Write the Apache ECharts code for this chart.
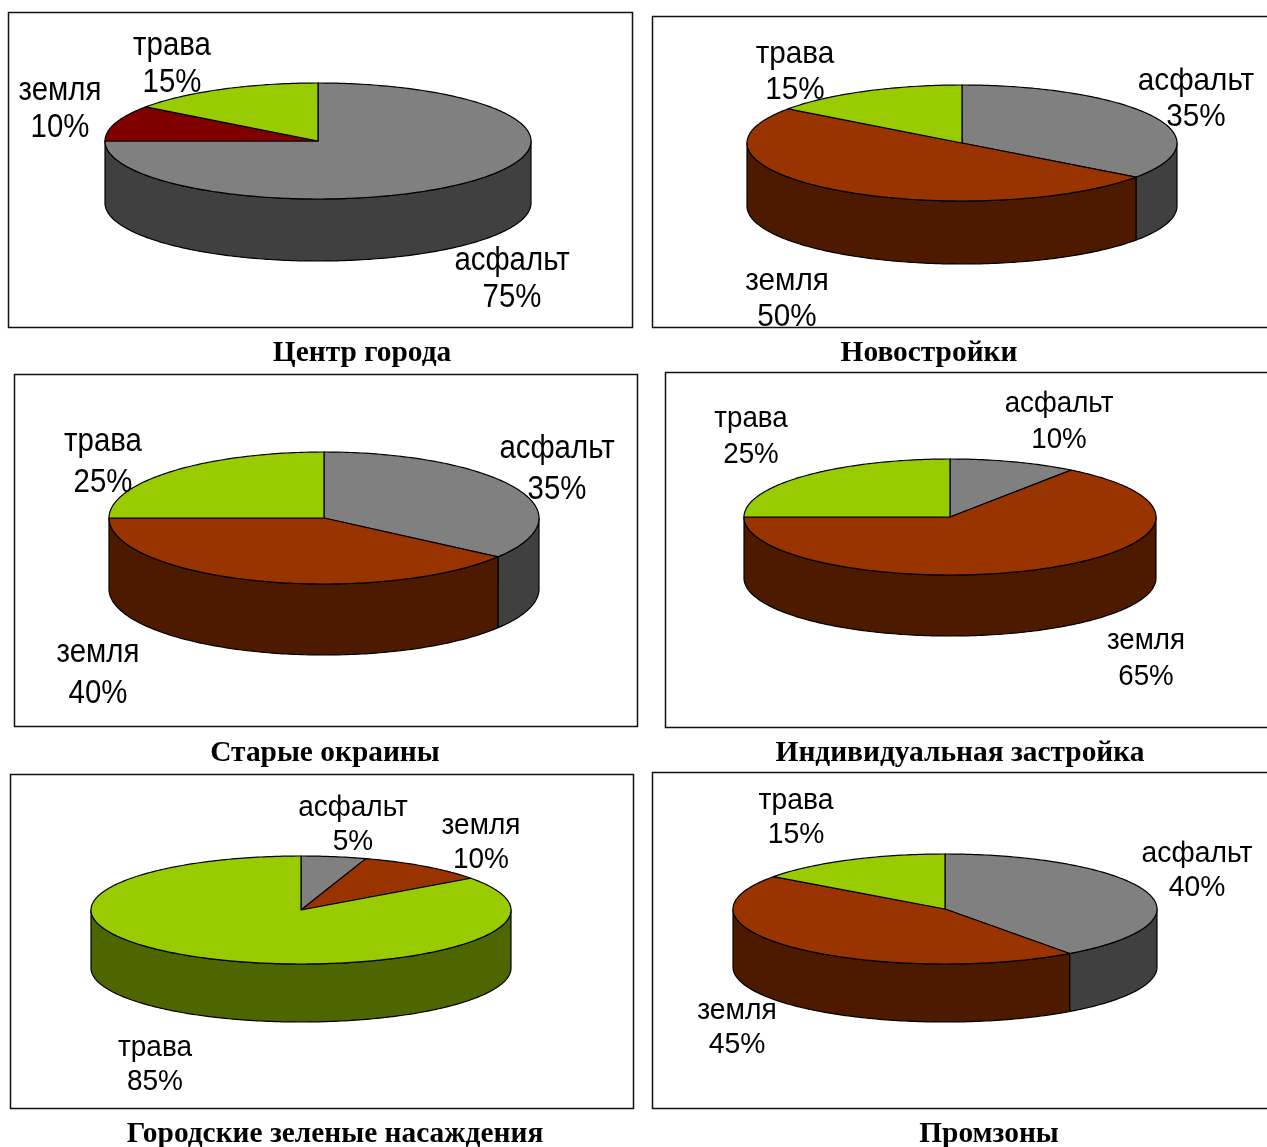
<!DOCTYPE html>
<html>
<head>
<meta charset="utf-8">
<style>html,body{margin:0;padding:0;background:#fff}#chart{width:1267px;height:1147px}</style>
<script src="https://cdn.jsdelivr.net/npm/echarts@6/dist/echarts.min.js"></script>
</head>
<body>
<div id="chart"></div>
<script>
// Ground cover shares by urban zone, in percent
const surfaces = ['асфальт', 'земля', 'трава'];
const zones = ['Центр города', 'Новостройки', 'Старые окраины', 'Индивидуальная застройка', 'Городские зеленые насаждения', 'Промзоны'];
const centerCity = [75, 10, 15];
const newBuilds = [35, 50, 15];
const oldOutskirts = [35, 40, 25];
const individualHousing = [10, 65, 25];
const urbanGreenery = [5, 10, 85];
const industrialZones = [40, 45, 15];
const zoneValues = [centerCity, newBuilds, oldOutskirts, individualHousing, urbanGreenery, industrialZones];

// Slice colours per zone: top face and darker rim
const gray = ['#808080', '#404040'];
const brown = ['#993300', '#4d1a00'];
const maroon = ['#800000', '#400000'];
const green = ['#99cc00', '#4d6600'];
const zoneColors = [
  [gray, maroon, green], [gray, brown, green], [gray, brown, green],
  [gray, brown, green], [gray, brown, green], [gray, brown, green]
];

// Panel geometry
const frames = [[8, 12, 624, 315], [652, 16, 640, 311], [14, 374, 623, 352], [665, 372, 640, 355], [10, 774, 623, 334], [652, 772, 640, 336]];
const pies = [
  { cx: 318, cy: 141, rx: 213, ry: 58, depth: 62 },
  { cx: 962, cy: 143, rx: 215, ry: 58, depth: 63 },
  { cx: 324, cy: 518, rx: 215, ry: 66, depth: 71 },
  { cx: 950, cy: 517, rx: 206, ry: 58, depth: 61 },
  { cx: 301, cy: 910, rx: 210, ry: 54, depth: 58 },
  { cx: 945, cy: 909, rx: 212, ry: 55, depth: 58 }
];
const labelAnchors = [
  [[512, 280], [60, 110], [172, 65]],
  [[1196, 99], [787, 299], [795, 72]],
  [[557, 469], [98, 673], [103, 462]],
  [[1059, 422], [1146, 659], [751, 437]],
  [[353, 825], [481, 843], [155, 1065]],
  [[1197, 871], [737, 1028], [796, 818]]
];
const labelFonts = [
  { size: 30, line: 37, sx: 0.98, sy: 1.08 }, { size: 30, line: 36, sx: 0.99, sy: 1.05 }, { size: 30, line: 41, sx: 0.98, sy: 1.12 },
  { size: 28, line: 36, sx: 0.99, sy: 1.07 }, { size: 29, line: 34.5, sx: 0.965, sy: 1.02 }, { size: 29, line: 34, sx: 0.975, sy: 1.02 }
];
const titleCenters = [[362, 353], [929, 353], [325, 753], [960, 753], [335, 1134], [989, 1134]];
const titleSize = 29.4;

const DEG = Math.PI / 180;

// Point on the elliptical rim; angle runs clockwise from twelve o'clock
function rimPoint(p, deg, drop) {
  return [p.cx + p.rx * Math.sin(deg * DEG), p.cy - p.ry * Math.cos(deg * DEG) + (drop || 0)];
}
function arc(p, a, b, drop) {
  const pts = [];
  const n = Math.max(2, Math.ceil(Math.abs(b - a)));
  for (let i = 0; i <= n; i++) pts.push(rimPoint(p, a + (b - a) * i / n, drop));
  return pts;
}

function renderPie(z) {
  return function (params, api) {
    const i = params.dataIndex;
    if (i !== 0) {
      // all slices of one zone are drawn together on the first item
      return { type: 'group', children: [] };
    }
    const p = pies[z];
    const vals = zoneValues[z];
    const total = vals.reduce((s, v) => s + v, 0);
    const sides = [];
    const tops = [];
    const texts = [];
    const f = labelFonts[z];
    let a = 0;
    vals.forEach((v, k) => {
      const b = a + v / total * 360;
      const line = { stroke: '#000', lineWidth: 1.2, lineJoin: 'round' };
      // the rim shows only on the near half of the disc
      const from = Math.max(a, 90), to = Math.min(b, 270);
      if (to > from) {
        sides.push({
          type: 'polygon',
          shape: { points: arc(p, from, to, 0).concat(arc(p, to, from, p.depth)) },
          style: Object.assign({ fill: zoneColors[z][k][1] }, line)
        });
      }
      tops.push({
        type: 'polygon',
        shape: { points: [[p.cx, p.cy]].concat(arc(p, a, b, 0)) },
        style: Object.assign({ fill: zoneColors[z][k][0] }, line)
      });
      const anchor = labelAnchors[z][k];
      texts.push({
        type: 'text',
        x: anchor[0], y: anchor[1], scaleX: f.sx, scaleY: f.sy,
        style: {
          text: surfaces[k] + '\n' + v + '%',
          x: 0, y: 0, align: 'center', verticalAlign: 'middle',
          font: f.size + 'px "Liberation Sans"', lineHeight: f.line / f.sy, fill: '#000'
        }
      });
      a = b;
    });
    return { type: 'group', children: sides.concat(tops, texts) };
  };
}

const chart = echarts.init(document.getElementById('chart'), null, { renderer: 'canvas' });
chart.setOption({
  animation: false,
  backgroundColor: '#fff',
  title: zones.map((name, z) => ({
    text: name,
    left: titleCenters[z][0], top: titleCenters[z][1],
    textAlign: 'center', textVerticalAlign: 'middle',
    padding: 0,
    textStyle: { fontFamily: 'Liberation Serif', fontWeight: 'bold', fontSize: titleSize, color: '#000' }
  })),
  graphic: frames.map(r => ({
    type: 'rect', z: 0, silent: true,
    shape: { x: r[0] + 0.5, y: r[1] + 0.5, width: r[2], height: r[3] },
    style: { fill: '#fff', stroke: '#111', lineWidth: 1.5 }
  })),
  series: zones.map((name, z) => ({
    type: 'custom',
    name,
    coordinateSystem: 'none',
    silent: true,
    z: 5,
    data: zoneValues[z].map((v, k) => ({ name: surfaces[k], value: v })),
    renderItem: renderPie(z)
  }))
});
</script>
</body>
</html>
